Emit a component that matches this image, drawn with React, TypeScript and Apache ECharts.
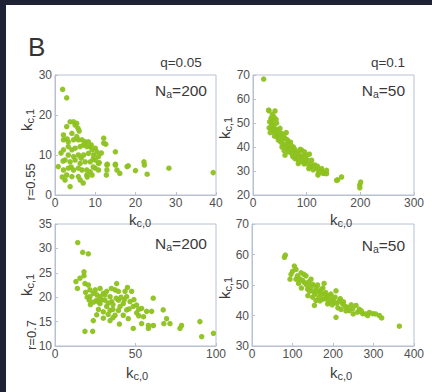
import React, { useEffect, useRef } from "react";
import * as echarts from "echarts";

const panelA: number[][] = [
  [1.9,26.4],[2.9,24.3],[3.75,18.3],[4.6,18.3],[5.4,17.9],[5.7,16.7],[2.9,17.1],[4.2,15.4],[2.1,15],[2.1,13.8],[3.3,13.3],[4.6,13.8],[5.4,14.6],[5.8,13.8],[6.7,13.8],[7.5,13.3],[8.3,13.3],[12.1,14.2],[12.1,13],[2.1,11.3],[3.3,12.1],[4.2,11.3],[5,11.7],[6.25,12.1],[7.1,12.5],[7.9,12.1],[8.75,12.1],[9.2,11.3],[10,11.7],[10.4,10.8],[3.3,10],[4.6,9.6],[5.8,10],[7.1,10],[8.3,10.4],[9.6,10],[10.8,9.6],[15,10.8],[2.5,8.75],[3.75,8.3],[5,8.75],[6.25,7.9],[7.5,8.3],[8.75,8.3],[10,8.75],[10.8,7.9],[12.9,7.5],[15,7.5],[0.8,7.1],[2.1,6.25],[3.3,6.7],[4.6,6.25],[5.8,6.7],[6.7,6.25],[7.9,6.25],[8.75,5.8],[10,6.7],[10.8,6.25],[12.9,6.25],[15.4,6.25],[17.9,7.1],[2.9,5],[4.2,4.6],[5.8,4.6],[7.9,5],[9.2,5],[2.5,3.75],[6.25,3.75],[3.75,2.1],[12.6,12.7],[15,7.7],[16.1,5.4],[18.2,7.3],[20,6.1],[22.1,8.3],[22.2,7.5],[22.9,5.2],[28.3,6.7],[39.3,5.6],[12.75,5],[13,7.7],[11,8.1],[5,17.5],[6,16],[3,14],[9,12.5],[9.5,9],[6.5,9.2],[4,7],[2,8.5],[1.5,10.5],[9.5,7],[11.5,10.5],[8,4.5],[7,3],[1.8,4.5]
];

const panelB: number[][] = [
  [19.9,68.3],[29.2,55.4],[41,55],[33.5,52],[32.9,47.8],[29.8,55.1],[34.8,51.3],[34.8,49.2],[44,49.9],[37.9,47.1],[50.3,47.8],[44,45],[53.4,45.7],[47.2,42.9],[59.6,43.6],[56.5,40.8],[65.8,42.2],[65.8,39.4],[75.1,40.1],[59.6,36.6],[72,37.3],[81.3,38],[90.6,38.7],[78.2,35.2],[90.6,35.9],[99.9,36.6],[84.4,33.1],[96.8,33.8],[109.2,34.5],[106.1,31.7],[118.5,31],[124.7,30.3],[137.1,30.3],[121.6,28.9],[137.1,28.9],[155.7,26.1],[165,27.5],[157.7,26.3],[199,24.2],[200.6,25.4],[199,23],
  [30,48],[32,46],[36,50],[38,48.5],[40,46],[42,47.5],[45,47],[46,44],[48,46],[50,44],[52,42],[55,43],[57,44.5],[60,41],[62,40],[64,43],[66,38],[68,41],[70,39],[72,40],[74,36],[76,38],[78,39],[80,36.5],[82,35],[85,37],[86,34],[88,36],[92,34],[94,36.5],[95,33],[98,35],[100,33],[102,34.5],[104,31],[108,33],[110,32],[112,30.5],[115,32.5],[120,32],[128,31],[130,29.5],[134,29],[62,46],[36,53.5],[40,44.5],[54,40],[70,42],[58,38.5],[88,39],[96,38],[105,37],[31,50.5],[43,51.5],[39,52.5],[123.6,29.7],[130.7,29],[121,28.3]
];

const panelC: number[][] = [
  [14.1,31.2],[17.2,29.2],[20.7,28.9],[18,25.2],[18,24.4],[15.5,23.9],[13,23.2],[13.9,21.8],[18.6,22.8],[20.7,22.5],[21.7,21.5],[23.8,20.8],[21.3,19.4],[25.9,19.4],[28,20.1],[30,20.8],[32.1,21.2],[34.2,20.1],[37.3,21.5],[38.3,22.8],[39.4,21.2],[43.5,21.2],[47.6,21.2],[44.5,20.1],[42.4,18.7],[46.6,19.1],[48.6,18.1],[50.7,18.4],[53.8,17.7],[56.9,17.1],[61,19.8],[60,17.1],[28,18.7],[32.1,18.1],[34.2,17.3],[37.3,16.3],[39.4,17.3],[42.4,16.3],[45.5,15.6],[48.6,13.6],[53.8,14.6],[58,14.2],[58,13.6],[61.1,14.2],[23.8,15.2],[23.4,13],[18.6,13],[25.9,16.4],[30,15.7],[34.2,15.2],[67.2,17.4],[69.3,15.6],[67.6,14.6],[71.4,14.6],[78.6,14.2],[77.6,13.6],[90,15],[91.1,11.9],[98.4,12.6],[21.7,20.1],[28,21.8],[31,19.4],[35.2,19.1],[39.4,19.4],[40.4,18.1],[44.5,17.4],[50.7,16.8],
  [24,19],[26,20.5],[27,17.5],[29,19.5],[30,17],[31,20.5],[33,18.8],[33,16.5],[36,18.5],[36,17.5],[38,19.8],[41,20],[43,19.5],[46,17.6],[49,19.5],[52,17.5],[55,16],[36,15.8],[40,14.5],[52,16.2],[25,21.5],[22,18.5],[19,21],[20,20],[27,19],[35,21.8],[45,22]
];

const panelD: number[][] = [
  [82.3,59.8],[80,59.1],[104.5,56.2],[108.6,55.1],[96.3,53.5],[93.8,51.9],[108.6,51.9],[121,54],[133.3,53],[129.2,50.8],[145.7,51.9],[149.8,50.2],[137.4,48.6],[158,49.2],[166.3,47.6],[149.8,46],[178.6,47.1],[190.9,46.5],[174.5,45.4],[199.2,45.4],[186.8,43.8],[207.4,48.1],[203.3,44.3],[215.6,44.8],[223.9,43.8],[207.4,39.4],[236.2,42.7],[248.6,42.2],[240.3,41.6],[256.8,43.3],[260.9,41.1],[273.3,40.6],[285.6,40],[298,40.6],[314.4,40],[320.2,39.2],[363.8,36.5],[154,43.3],[158,44.9],
  [100,54.5],[112,53],[115,50.5],[118,52],[125,51.5],[128,53.5],[135,50],[140,51],[142,48],[145,49.5],[150,48],[155,47],[160,48],[162,50],[165,46],[170,48.5],[172,47],[175,49],[180,45.5],[182,47.5],[185,46],[188,45],[192,44.5],[195,47],[198,43.5],[205,46],[210,44],[212,42.5],[218,45.5],[220,42],[226,44.5],[230,43],[232,41.5],[245,43.5],[250,40.5],[265,42],[270,41.5],[280,40.5],[290,41],[305,40.5],[122,49],[138,46.5],[168,44.8],[178,50.5]
];

const xRanges = [[0, 40, 10], [0, 300, 100], [0, 100, 50], [0, 400, 100]];
const yRanges = [[0, 30, 10], [20, 70, 10], [10, 35, 5], [30, 70, 10]];
const naLabels = ["200", "50", "200", "50"];
const qLabels = ["q=0.05", "q=0.1"];
const rLabels = ["r=0.55", "r=0.7"];

const FONT = "'Liberation Sans', Arial, Helvetica, sans-serif";
const AXIS = "#b8c0d2";
const TICKTXT = "#505050";
const TXT = "#3a3a3a";
const PT = "#8dc21f";

const grids = [
  { left: 55, top: 75, width: 161, height: 120 },
  { left: 253, top: 75, width: 161, height: 120 },
  { left: 55, top: 224, width: 161, height: 122 },
  { left: 252, top: 224, width: 162, height: 122 },
];

function kText(sub: string, x: number, y: number, vertical: boolean) {
  return {
    type: "text",
    x,
    y,
    rotation: vertical ? Math.PI / 2 : 0,
    style: {
      text: `{k|k}{s|${sub}}`,
      align: "center",
      verticalAlign: "middle",
      fill: TXT,
      fontFamily: FONT,
      rich: {
        k: { fontSize: 15, lineHeight: 18, fontFamily: FONT, fill: TXT },
        s: { fontSize: 11, lineHeight: 10, verticalAlign: "bottom", fontFamily: FONT, fill: TXT },
      },
    },
  };
}

function naText(val: string, x: number, y: number) {
  return {
    type: "text",
    x,
    y,
    style: {
      text: `{n|N}{s|a}{n|=${val}}`,
      align: "right",
      verticalAlign: "middle",
      fill: TXT,
      fontFamily: FONT,
      rich: {
        n: { fontSize: 15.5, lineHeight: 18, fontFamily: FONT, fill: TXT },
        s: { fontSize: 10.5, lineHeight: 10, verticalAlign: "bottom", fontFamily: FONT, fill: TXT },
      },
    },
  };
}

export default function App() {
  const ref = useRef<HTMLDivElement>(null);
  useEffect(() => {
    if (!ref.current) return;
    const chart = echarts.init(ref.current, undefined, { renderer: "svg" });
    const data = [panelA, panelB, panelC, panelD];
    const option: any = {
      animation: false,
      backgroundColor: "#ffffff",
      grid: grids.map((g) => ({ ...g, show: true, borderColor: AXIS, borderWidth: 1, backgroundColor: "transparent", containLabel: false })),
      xAxis: grids.map((_, i) => ({
        type: "value",
        gridIndex: i,
        min: xRanges[i][0],
        max: xRanges[i][1],
        interval: xRanges[i][2],
        axisLine: { show: true, lineStyle: { color: AXIS, width: 1 } },
        axisTick: { show: true, inside: true, length: 3, lineStyle: { color: AXIS } },
        splitLine: { show: false },
        axisLabel: { color: TICKTXT, fontSize: 12, fontFamily: FONT, margin: 2 },
      })),
      yAxis: grids.map((_, i) => ({
        type: "value",
        gridIndex: i,
        min: yRanges[i][0],
        max: yRanges[i][1],
        interval: yRanges[i][2],
        axisLine: { show: true, lineStyle: { color: AXIS, width: 1 } },
        axisTick: { show: true, inside: true, length: 3, lineStyle: { color: AXIS } },
        splitLine: { show: false },
        axisLabel: { color: TICKTXT, fontSize: 12, fontFamily: FONT, margin: 3 },
      })),
      series: data.map((d, i) => ({
        type: "scatter",
        xAxisIndex: i,
        yAxisIndex: i,
        data: d,
        symbolSize: 5.5,
        itemStyle: { color: PT, opacity: 0.95 },
      })),
      graphic: [
        { type: "rect", shape: { x: 0, y: 0, width: 432, height: 5 }, style: { fill: "#1f2235" } },
        { type: "rect", shape: { x: 0, y: 0, width: 6, height: 392 }, style: { fill: "#1f2235" } },
        { type: "text", x: 28, y: 47, style: { text: "B", fontSize: 26, fontFamily: FONT, fill: "#333", verticalAlign: "middle", align: "left" } },
        { type: "text", x: 181, y: 62, style: { text: qLabels[0], fontSize: 13.5, fontFamily: FONT, fill: TXT, align: "center", verticalAlign: "middle" } },
        { type: "text", x: 388, y: 62, style: { text: qLabels[1], fontSize: 13.5, fontFamily: FONT, fill: TXT, align: "center", verticalAlign: "middle" } },
        naText(naLabels[0], 207, 90),
        naText(naLabels[1], 405, 90),
        naText(naLabels[2], 207, 243),
        naText(naLabels[3], 405, 245),
        kText("c,1", 26, 120, true),
        kText("c,1", 224, 128, true),
        kText("c,1", 26, 285, true),
        kText("c,1", 224, 288, true),
        kText("c,0", 140, 219, false),
        kText("c,0", 341, 219, false),
        kText("c,0", 137, 372, false),
        kText("c,0", 341, 372, false),
        { type: "text", x: 30, y: 182, rotation: Math.PI / 2, style: { text: rLabels[0], fontSize: 13, fontFamily: FONT, fill: TXT, align: "center", verticalAlign: "middle" } },
        { type: "text", x: 31, y: 335, rotation: Math.PI / 2, style: { text: rLabels[1], fontSize: 13, fontFamily: FONT, fill: TXT, align: "center", verticalAlign: "middle" } },
      ],
    };
    chart.setOption(option);
    return () => chart.dispose();
  }, []);
  return (
    <div
      ref={ref}
      style={{ position: "absolute", left: 0, top: 0, width: 432, height: 392, background: "#fff" }}
    />
  );
}
